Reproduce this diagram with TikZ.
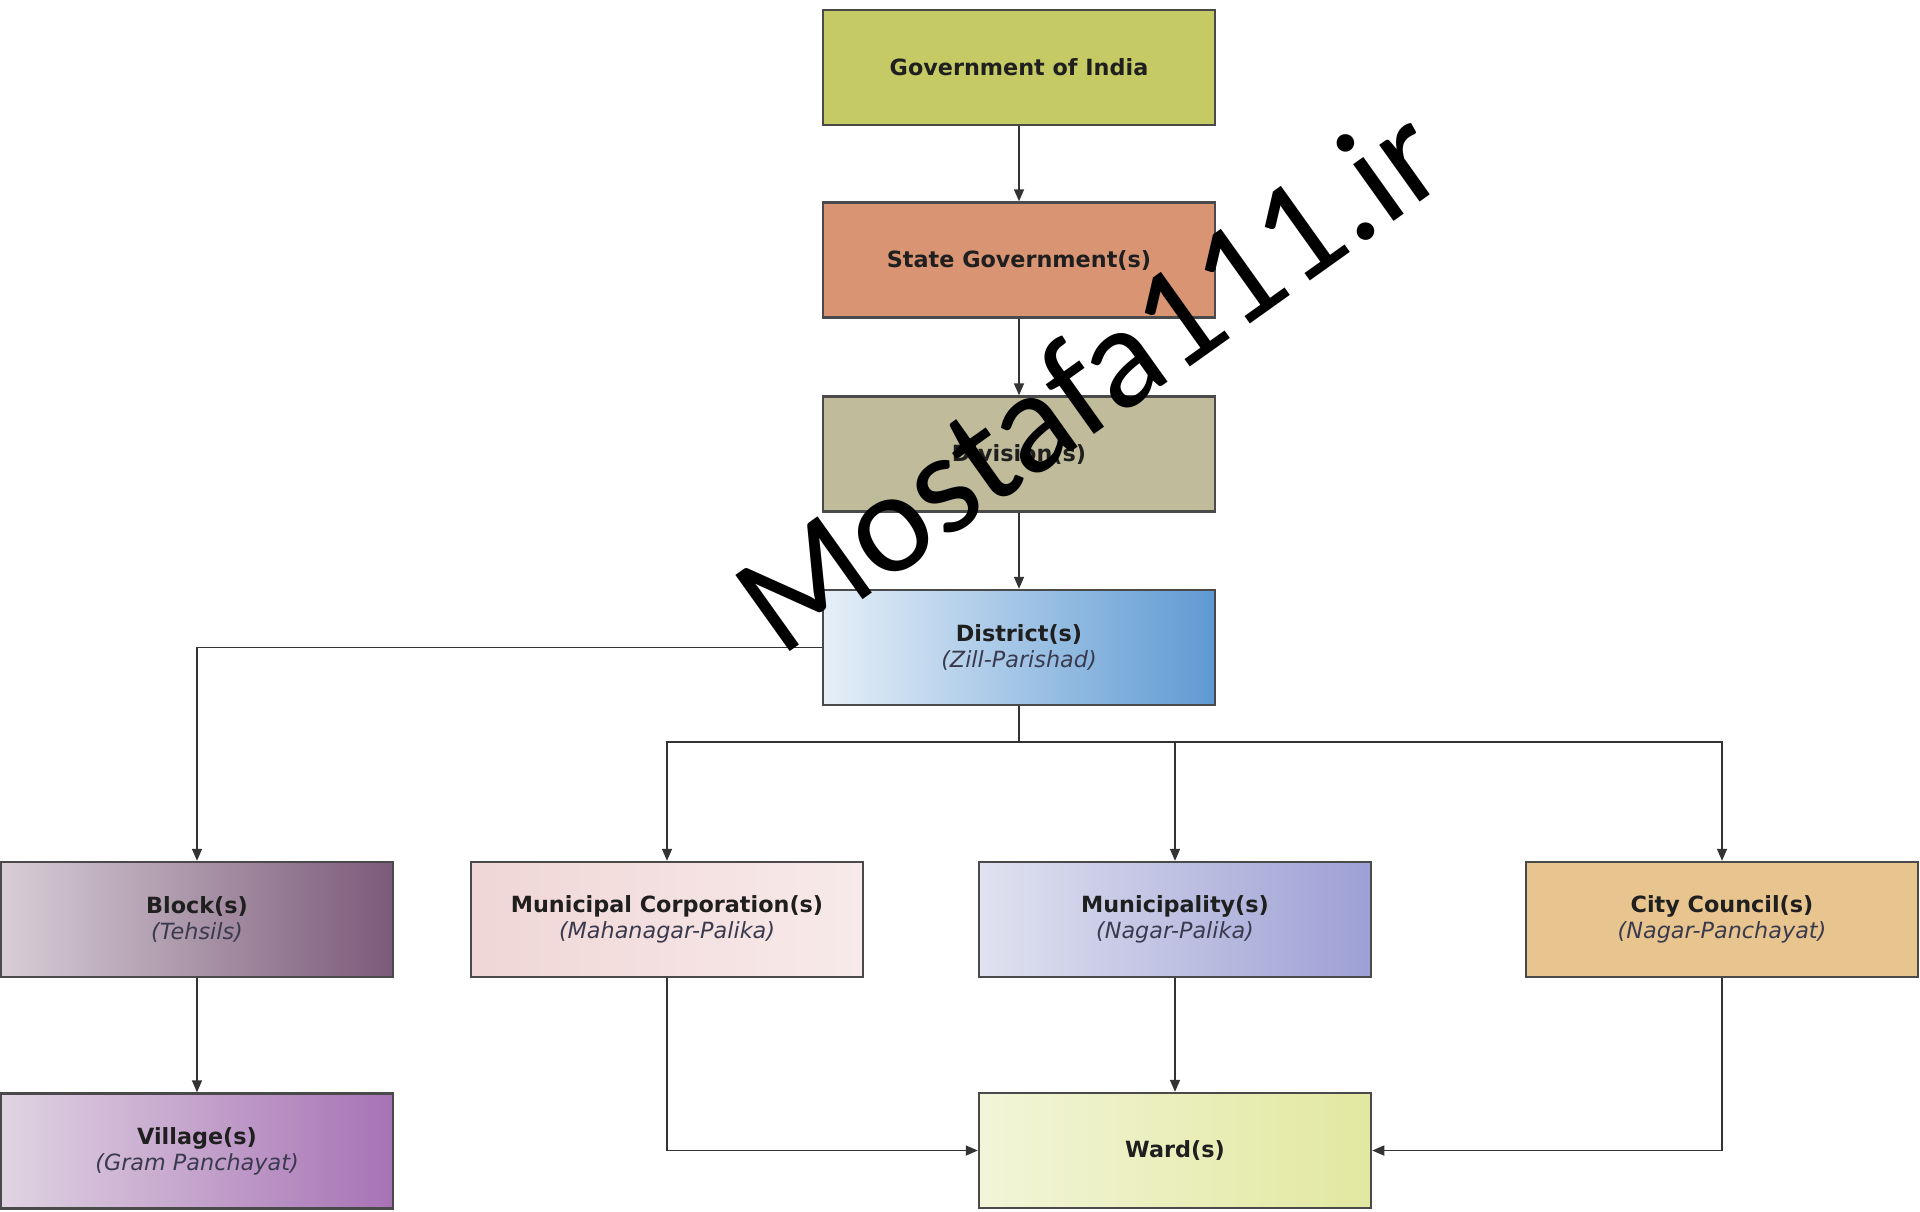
\documentclass[tikz,border=0pt]{standalone}
\usepackage{fontspec}
\setmainfont{DejaVu Sans}
\newfontfamily\wmfont{Carlito}
\usetikzlibrary{arrows.meta}
\definecolor{boxline}{HTML}{4A4A4A}
\definecolor{linec}{HTML}{333333}
\definecolor{subc}{HTML}{3A3A4E}
\definecolor{govc}{HTML}{C5CA64}
\definecolor{statec}{HTML}{D99573}
\definecolor{divc}{HTML}{BFBB9B}
\definecolor{distl}{HTML}{E6EFF8}
\definecolor{distr}{HTML}{5E9AD3}
\definecolor{blockl}{HTML}{D8CED6}
\definecolor{blockr}{HTML}{7B5A7A}
\definecolor{mcl}{HTML}{F0D6D6}
\definecolor{mcr}{HTML}{F8EAEA}
\definecolor{munil}{HTML}{E0E2F0}
\definecolor{munir}{HTML}{9DA0D4}
\definecolor{cityc}{HTML}{E8C48F}
\definecolor{villl}{HTML}{E0D4E2}
\definecolor{villr}{HTML}{A772B5}
\definecolor{wardl}{HTML}{F2F5D8}
\definecolor{wardr}{HTML}{E2E8A0}
\tikzset{
  orgbox/.style={draw=boxline,line width=0.7pt,minimum width=3.92cm,minimum height=1.15cm,
    inner sep=0pt,align=center,text=black!88,font=\fontsize{6.35}{7.3}\selectfont\bfseries},
  link/.style={draw=linec,line width=0.45pt,-{Triangle[length=0.12cm,width=0.1cm]}},
}
\newcommand{\subl}[1]{\\{\mdseries\itshape\color{subc}(#1)}}
\begin{document}
\begin{tikzpicture}
\useasboundingbox(0,0)rectangle(19.2,-12.11);
\fill[white](0,0)rectangle(19.2,-12.11);
% top chain
\node[orgbox,fill=govc](gov)at(10.19,-0.675){Government of India};
\node[orgbox,fill=statec](state)at(10.19,-2.60){State Government(s)};
\node[orgbox,fill=divc](div)at(10.19,-4.54){Division(s)};
\node[orgbox,left color=distl,right color=distr](dist)at(10.19,-6.475){District(s)\subl{Zill-Parishad}};
% second row
\node[orgbox,left color=blockl,right color=blockr](block)at(1.97,-9.195){Block(s)\subl{Tehsils}};
\node[orgbox,left color=mcl,right color=mcr](mc)at(6.67,-9.195){Municipal Corporation(s)\subl{Mahanagar-Palika}};
\node[orgbox,left color=munil,right color=munir](muni)at(11.75,-9.195){Municipality(s)\subl{Nagar-Palika}};
\node[orgbox,fill=cityc](city)at(17.22,-9.195){City Council(s)\subl{Nagar-Panchayat}};
% bottom row
\node[orgbox,left color=villl,right color=villr](village)at(1.97,-11.51){Village(s)\subl{Gram Panchayat}};
\node[orgbox,left color=wardl,right color=wardr](ward)at(11.75,-11.505){Ward(s)};
\coordinate(fork)at(10.19,-7.42);
% connectors
\foreach \a/\b in {gov/state,state/div,div/dist,block/village,muni/ward}{\draw[link](\a.south)--(\b.north);}
\draw[link](dist.west)-|(block.north);
\draw[linec,line width=0.45pt](dist.south)--(fork);
\foreach \b in {mc,muni,city}{\draw[link](fork)-|(\b.north);}
\draw[link](mc.south)|-(ward.west);
\draw[link](city.south)|-(ward.east);
% watermark
\node[rotate=35.5,anchor=base west,inner sep=0pt,font=\wmfont\fontsize{41.5}{41.5}\selectfont](wm)at(7.80,-6.59){Mostafa111.ir};
\end{tikzpicture}
\end{document}
